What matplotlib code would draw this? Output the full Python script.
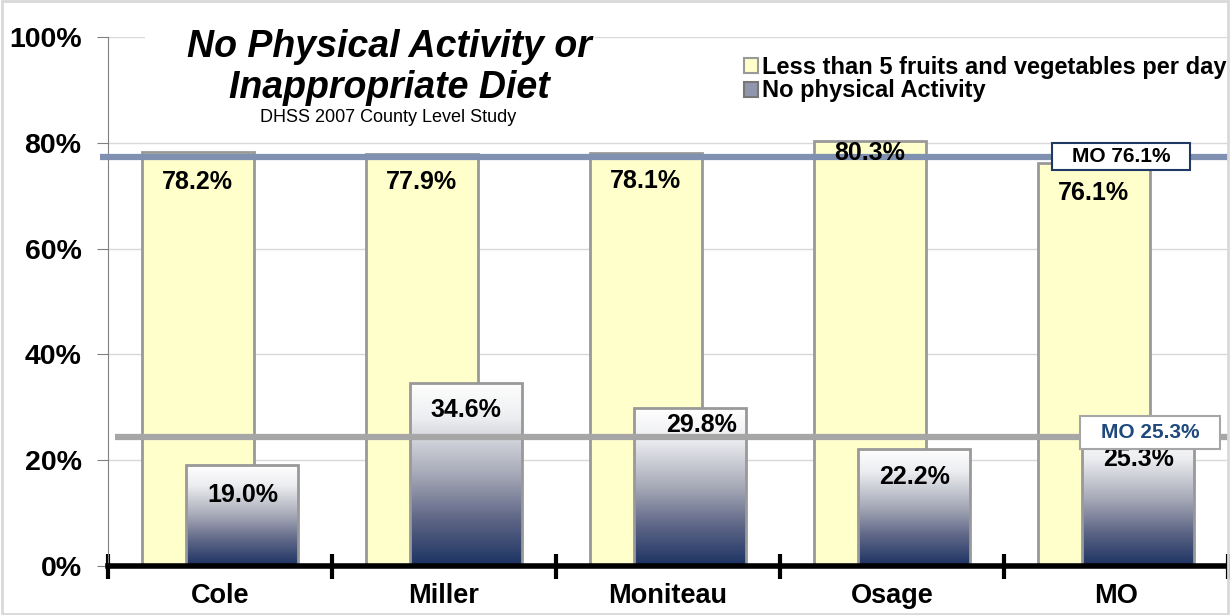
import matplotlib
matplotlib.use("Agg")
import matplotlib.pyplot as plt
import numpy as np
from matplotlib.colors import LinearSegmentedColormap
from matplotlib.patches import Patch, Rectangle

plt.rcParams['font.family'] = ['Liberation Sans', 'DejaVu Sans']

categories = ["Cole", "Miller", "Moniteau", "Osage", "MO"]
fruit_veg = [78.2, 77.9, 78.1, 80.3, 76.1]
no_activity = [19.0, 34.6, 29.8, 22.2, 25.3]
mo_fruit_line = 77.3
mo_activity_line = 24.4
mo_fruit_label = "MO 76.1%"
mo_activity_label = "MO 25.3%"
yticks = [0, 20, 40, 60, 80, 100]

# label placement (distance below bar top, in % units) and x nudges
fruit_lab_off = [5.6, 5.3, 5.4, 2.3, 5.5]
act_lab_off = [5.5, 5.2, 3.1, 5.3, 5.1]
act_lab_dx = [0, 0, 0.05, 0, 0]

W, H = 1230, 615
fig = plt.figure(figsize=(W / 100, H / 100), dpi=100)
ax = fig.add_axes([108 / W, 49 / H, 1120 / W, 529 / H])

x = np.arange(len(categories))
w = 0.5
ax.bar(x - 0.1, fruit_veg, width=w, color="#FFFFCC", edgecolor="#999999", linewidth=2, zorder=2)
navy = ax.bar(x + 0.1, no_activity, width=w, color="none", edgecolor="#999999", linewidth=2, zorder=4)

cmap = LinearSegmentedColormap.from_list(
    "g", [(0, "#FFFFFF"), (0.2, "#ECEDF0"), (0.5, "#A6A9B7"), (0.75, "#5D6586"), (1.0, "#1B3262")])
grad = np.linspace(0, 1, 256).reshape(-1, 1)
for b in navy:
    bx, by = b.get_x(), b.get_y()
    bw, bh = b.get_width(), b.get_height()
    im = ax.imshow(grad, extent=[bx, bx + bw, 0, bh], aspect="auto", cmap=cmap, zorder=3, origin="upper")
    im.set_clip_path(Rectangle((bx, by), bw, bh, transform=ax.transData))

ax.set_xlim(-0.5, len(categories) - 0.5)
ax.set_ylim(0, 100)

# reference lines
ax.plot([-0.535, 4.5], [mo_fruit_line] * 2, color="#7F90B0", lw=4.5, zorder=5, clip_on=False,
        solid_capstyle="butt")
ax.plot([-0.47, 4.5], [mo_activity_line] * 2, color="#A6A6A6", lw=4.5, zorder=5, clip_on=False,
        solid_capstyle="butt")

# value labels
for xi, v, off in zip(x, fruit_veg, fruit_lab_off):
    ax.text(xi - 0.1, v - off, f"{v:.1f}%", ha="center", va="center", fontsize=18, fontweight="bold", zorder=7)
for xi, v, off, dx in zip(x, no_activity, act_lab_off, act_lab_dx):
    ax.text(xi + 0.1 + dx, v - off, f"{v:.1f}%", ha="center", va="center", fontsize=18, fontweight="bold",
            zorder=7)

# MO boxes
ax.add_patch(Rectangle((3.714, 74.9), 0.616, 5.1, fc="white", ec="#1F3864", lw=1.5, zorder=8))
ax.text(4.022, 77.45, mo_fruit_label, ha="center", va="center", fontsize=15, fontweight="bold",
        color="black", zorder=9)
ax.add_patch(Rectangle((3.839, 22.1), 0.625, 6.3, fc="white", ec="#A6A6A6", lw=1.5, zorder=8))
ax.text(4.152, 25.25, mo_activity_label, ha="center", va="center", fontsize=15, fontweight="bold",
        color="#1F497D", zorder=9)

# grid & axes styling
ax.set_yticks(yticks)
ax.set_yticklabels([f"{t}%" for t in yticks], fontsize=20.5, fontweight="bold")
ax.yaxis.grid(True, color="#D9D9D9", lw=1, zorder=0)
ax.set_axisbelow(True)
ax.tick_params(axis="y", length=8, color="#808080", pad=11)
for s in ["top", "right"]:
    ax.spines[s].set_visible(False)
ax.spines["left"].set_color("#808080")
ax.spines["bottom"].set_linewidth(4)
ax.spines["bottom"].set_color("black")
ax.spines["bottom"].set_zorder(6)

ax.set_xticks(x)
ax.set_xticklabels(categories, fontsize=19.5, fontweight="bold")
ax.tick_params(axis="x", which="major", length=0, pad=12)
ax.set_xticks(np.arange(-0.5, len(categories)), minor=True)
ax.tick_params(axis="x", which="minor", length=18, width=3, direction="inout", color="black")

# white area behind title (hides top gridline)
fig.patches.append(Rectangle((145 / W, 1 - 62 / H), 450 / W, 30 / H, transform=fig.transFigure,
                             fc="white", ec="none", zorder=1))
# title
fig.text(389 / W, 1 - 57 / H, "No Physical Activity or", ha="center", va="baseline", fontsize=27,
         fontweight="bold", fontstyle="italic", zorder=10)
fig.text(389 / W, 1 - 98 / H, "Inappropriate Diet", ha="center", va="baseline", fontsize=27,
         fontweight="bold", fontstyle="italic", zorder=10)
fig.text(388 / W, 1 - 122 / H, "DHSS 2007 County Level Study", ha="center", va="baseline", fontsize=13,
         zorder=10)

# legend
handles = [Patch(facecolor="#FFFFCC", edgecolor="#999999", lw=1.5),
           Patch(facecolor="#9096AC", edgecolor="#777777", lw=1.5)]
fig.legend(handles, ["Less than 5 fruits and vegetables per day", "No physical Activity"],
           loc="upper left", bbox_to_anchor=(744 / W, 1 - 56 / H), frameon=False,
           prop=dict(size=17, weight="bold"), handlelength=0.6, handleheight=0.6,
           handletextpad=0.15, labelspacing=0.02, borderaxespad=0, borderpad=0)

# figure border
fig.patches.append(Rectangle((0.002, 0.002), 0.996, 0.996, transform=fig.transFigure, fill=False,
                             ec="#D9D9D9", lw=2, zorder=11))

fig.savefig("out.png", dpi=100)
